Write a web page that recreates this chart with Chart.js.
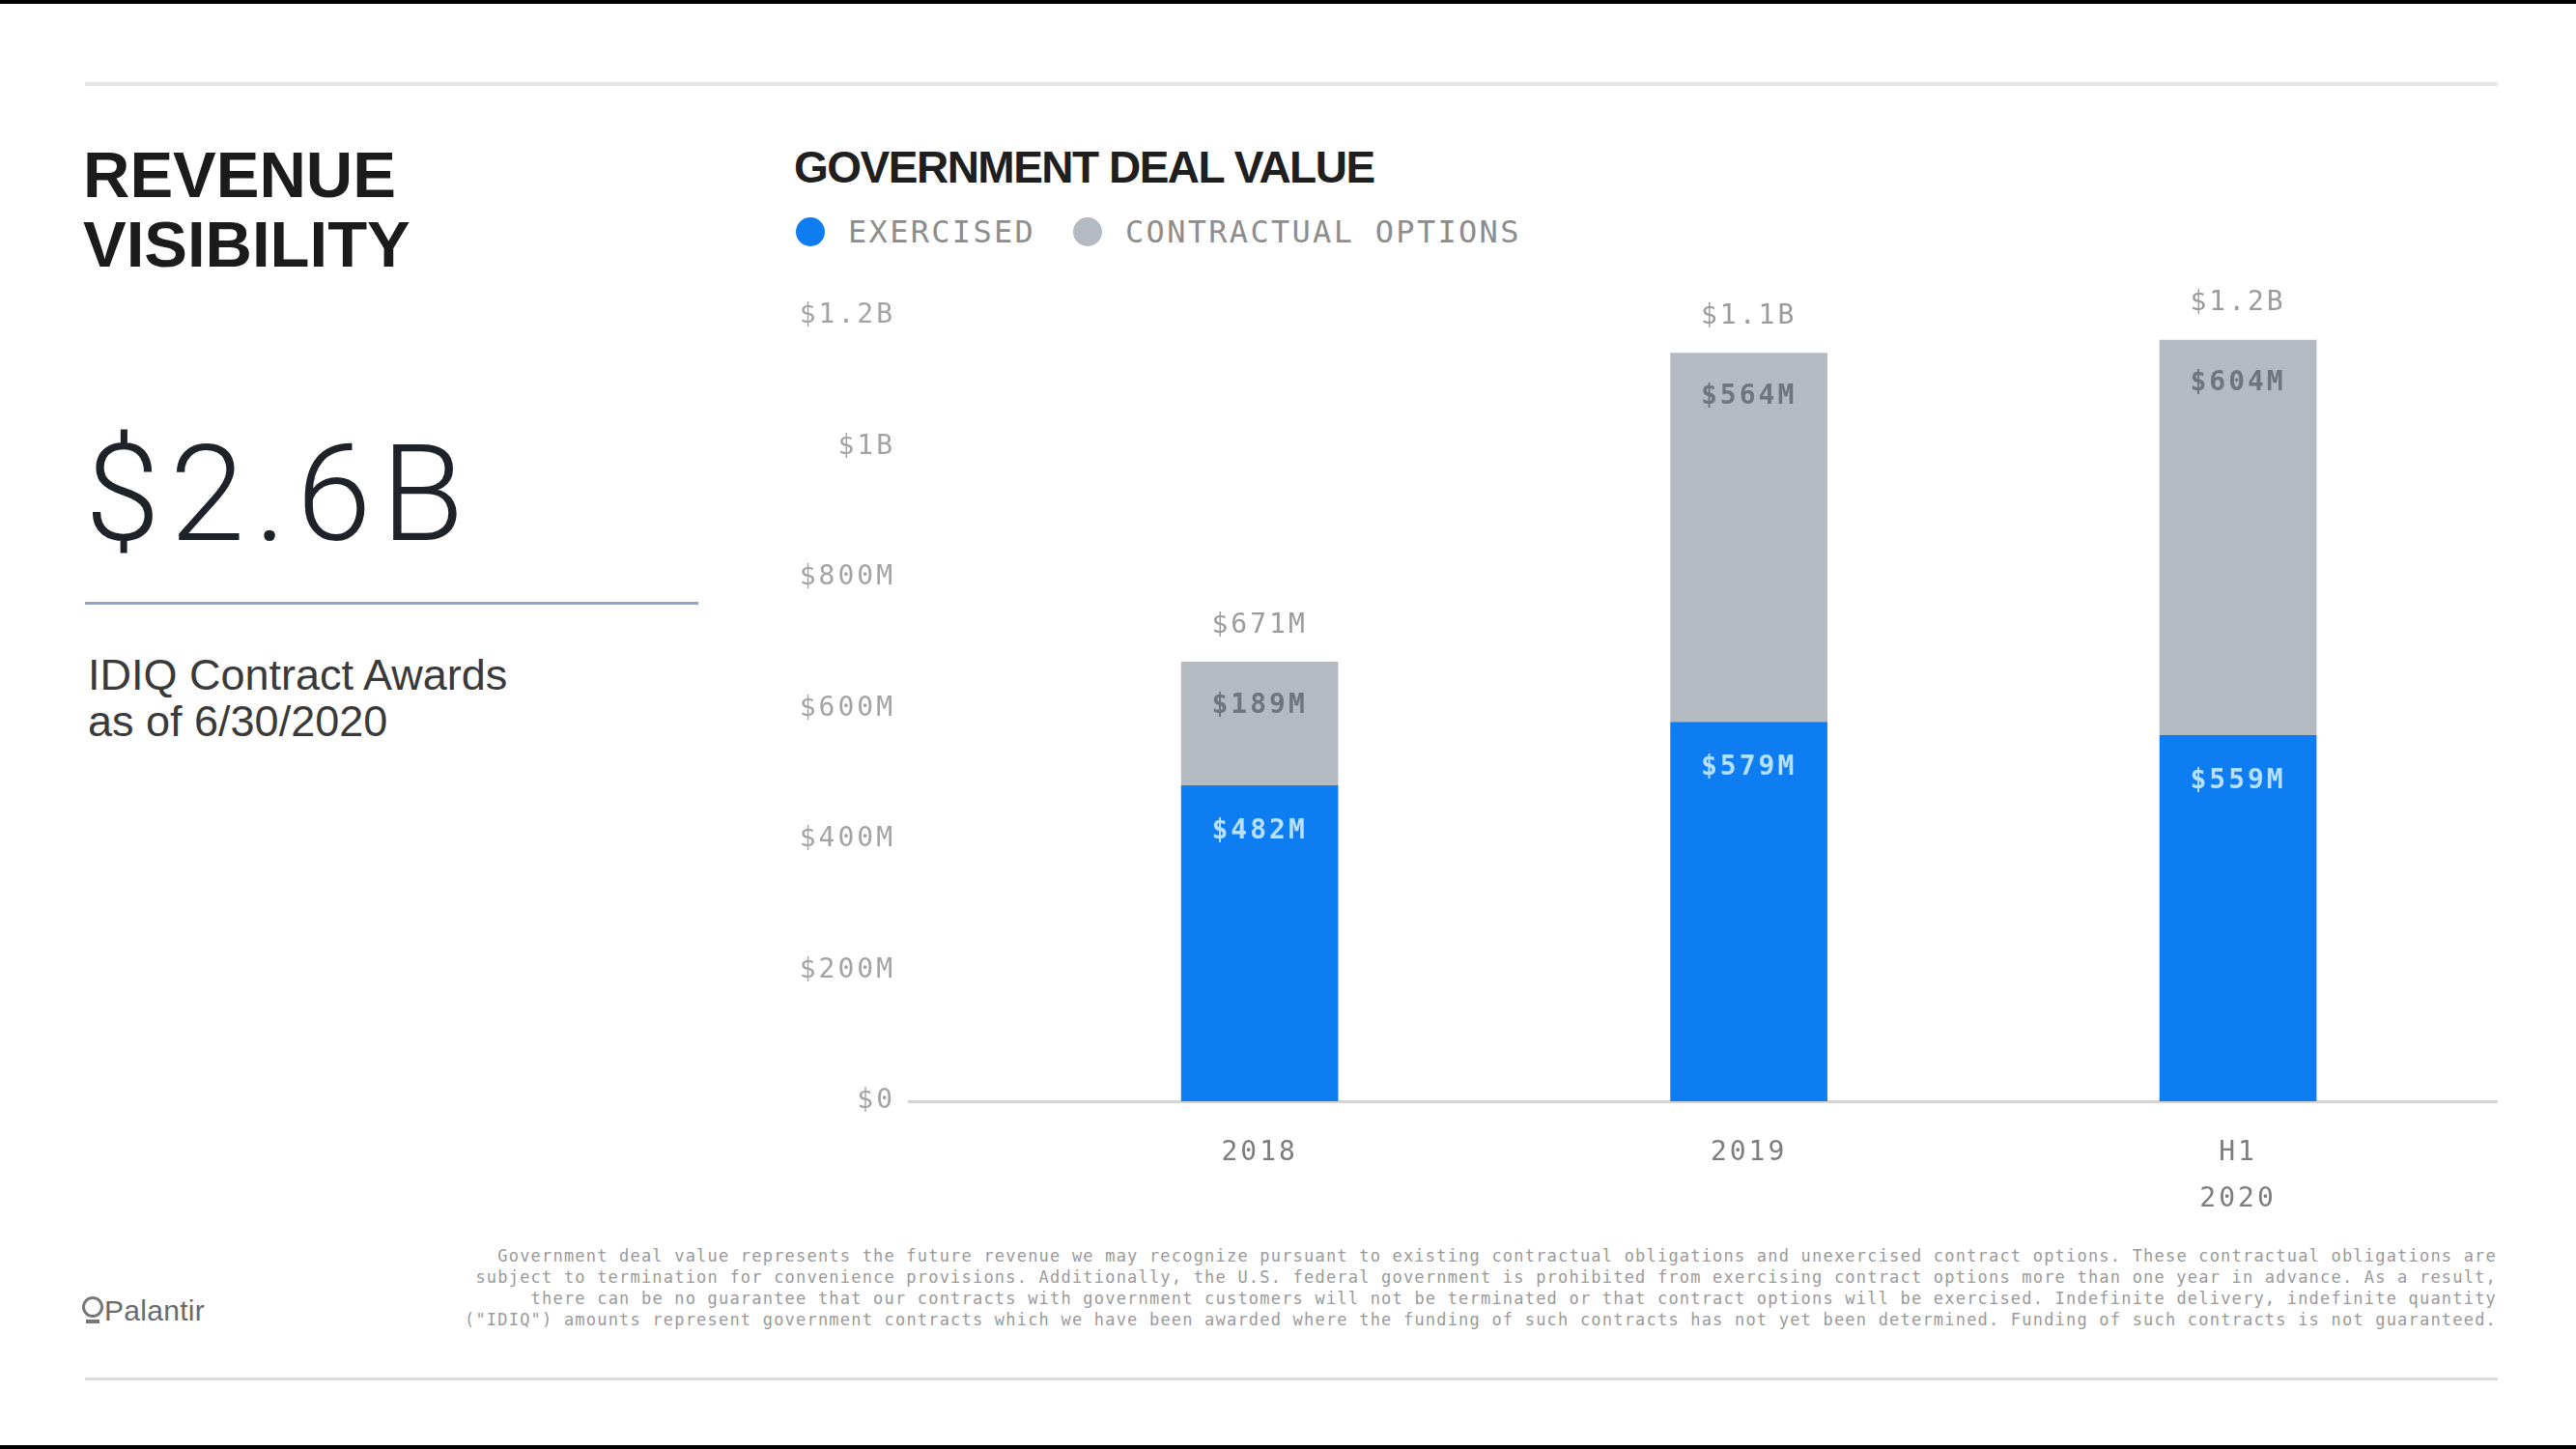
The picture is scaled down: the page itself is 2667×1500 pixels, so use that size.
<!DOCTYPE html>
<html lang="en">
<head>
  <meta charset="UTF-8" />
  <title>Revenue Visibility - Government Deal Value</title>
  <script src="https://cdn.jsdelivr.net/npm/chart.js@4"></script>
  <style>
    body { margin: 0; width: 2667px; height: 1500px; background: #fff; position: relative; overflow: hidden;
           font-family: "Liberation Sans", Arial, sans-serif; }
    .abs { position: absolute; }
    .mono { font-family: "DejaVu Sans Mono", monospace; }
    .rule { background: #e6e6e6; }
    .black { background: #000; left: 0; width: 2667px; height: 4px; }
    .dot { width: 30px; height: 30px; border-radius: 50%; }
    .legend-text { font-size: 32px; line-height: 40px; letter-spacing: 2.3px; color: #8d8d8d; }
  </style>
</head>
<body>
  <div class="abs black" style="top:0"></div>
  <div class="abs black" style="top:1496px"></div>
  <div class="abs rule" style="left:88px; top:85px; width:2498px; height:4px;"></div>
  <div class="abs rule" style="left:88px; top:1426px; width:2498px; height:3px; background:#dcdcdc;"></div>

  <!-- left panel -->
  <div class="abs" style="left:86px; top:145px; font-weight:bold; font-size:67px; line-height:72px; color:#1b1b1b;">
    REVENUE<br>VISIBILITY
  </div>
  <div class="abs" style="left:88px; top:441px; font-family:Roboto, sans-serif; font-weight:300; font-size:140px; line-height:140px; letter-spacing:10px; color:#1e2229;">$2.6B</div>
  <div class="abs" style="left:88px; top:623px; width:635px; height:3px; background:#8fa4c9;"></div>
  <div class="abs" style="left:91px; top:675px; font-size:45px; line-height:48px; color:#3a3a3a;">
    IDIQ Contract Awards<br>as of 6/30/2020
  </div>

  <!-- chart header -->
  <div class="abs" style="left:822px; top:148px; font-weight:bold; font-size:46px; line-height:50px; letter-spacing:-1.5px; color:#1f1f1f;">GOVERNMENT DEAL VALUE</div>
  <div class="abs dot" style="left:824px; top:225px; background:#0e7df2;"></div>
  <div class="abs mono legend-text" style="left:878px; top:220px;">EXERCISED</div>
  <div class="abs dot" style="left:1111px; top:225px; background:#b4bac1;"></div>
  <div class="abs mono legend-text" style="left:1165px; top:220px;">CONTRACTUAL OPTIONS</div>

  <div class="abs" style="left:800px; top:280px;">
    <canvas id="dealChart" width="1830" height="1000"></canvas>
  </div>

  <!-- footnote -->
  <div class="abs mono" style="right:82px; top:1289px; text-align:right; white-space:pre; font-size:17px; line-height:22px; letter-spacing:1.2px; color:#9a9a9a;">Government deal value represents the future revenue we may recognize pursuant to existing contractual obligations and unexercised contract options. These contractual obligations are
subject to termination for convenience provisions. Additionally, the U.S. federal government is prohibited from exercising contract options more than one year in advance. As a result,
there can be no guarantee that our contracts with government customers will not be terminated or that contract options will be exercised. Indefinite delivery, indefinite quantity
("IDIQ") amounts represent government contracts which we have been awarded where the funding of such contracts has not yet been determined. Funding of such contracts is not guaranteed.</div>

  <!-- logo -->
  <div class="abs" style="left:85px; top:1342px; width:16px; height:16px; border:3px solid #777; border-radius:50%;"></div>
  <div class="abs" style="left:89px; top:1366px; width:14px; height:4px; background:#777;"></div>
  <div class="abs" style="left:108px; top:1340px; font-size:30px; line-height:34px; letter-spacing:0.3px; color:#6a6a6a;">Palantir</div>

  <script>
    const categories = ['2018', '2019', ['H1', '2020']];
    const exercised = [482, 579, 559];
    const contractualOptions = [189, 564, 604];
    const totalLabels = ['$671M', '$1.1B', '$1.2B'];
    const yTickLabels = ['$0', '$200M', '$400M', '$600M', '$800M', '$1B', '$1.2B'];

    const monoFont = '"DejaVu Sans Mono", monospace';

    // letter spacing for all canvas text (ticks + labels)
    const spacing = {
      id: 'spacing',
      beforeDraw(chart) { chart.ctx.letterSpacing = '3px'; },
      afterDraw(chart) { chart.ctx.letterSpacing = '0px'; }
    };

    const barLabels = {
      id: 'barLabels',
      afterDatasetsDraw(chart) {
        const ctx = chart.ctx;
        const blue = chart.getDatasetMeta(0).data;
        const gray = chart.getDatasetMeta(1).data;
        ctx.save();
        ctx.letterSpacing = '3px';
        ctx.textAlign = 'center';
        ctx.textBaseline = 'middle';
        blue.forEach((bar, i) => {
          ctx.font = 'bold 28px ' + monoFont;
          ctx.fillStyle = '#b5e0ff';
          ctx.fillText('$' + exercised[i] + 'M', bar.x, bar.y + 47);
          ctx.fillStyle = '#6e757d';
          ctx.fillText('$' + contractualOptions[i] + 'M', gray[i].x, gray[i].y + 45);
          ctx.font = '28px ' + monoFont;
          ctx.fillStyle = '#9b9b9b';
          ctx.fillText(totalLabels[i], gray[i].x, gray[i].y - 38);
        });
        ctx.restore();
      }
    };

    new Chart(document.getElementById('dealChart'), {
      type: 'bar',
      data: {
        datasets: [
          {
            label: 'EXERCISED',
            data: exercised.map((v, i) => ({ x: i, y: v })),
            backgroundColor: '#0e7df2',
            barThickness: 162
          },
          {
            label: 'CONTRACTUAL OPTIONS',
            data: contractualOptions.map((v, i) => ({ x: i, y: v })),
            backgroundColor: '#b4bac1',
            barThickness: 162
          }
        ]
      },
      options: {
        responsive: false,
        devicePixelRatio: 1,
        animation: false,
        layout: { padding: { top: 47, right: 45, left: 0, bottom: 0 } },
        plugins: {
          legend: { display: false },
          tooltip: { enabled: false }
        },
        scales: {
          x: {
            type: 'linear',
            stacked: true,
            offset: false,
            min: -0.717,
            max: 2.529,
            afterBuildTicks: s => { s.ticks = categories.map((_, i) => ({ value: i })); },
            afterFit: s => { s.height = 140; },
            grid: { display: false, drawTicks: false },
            border: { display: true, color: '#d4d4d4', width: 3 },
            ticks: {
              autoSkip: false,
              maxRotation: 0,
              minRotation: 0,
              padding: 30,
              color: '#7d7d7d',
              font: { family: monoFont, size: 28, lineHeight: 1.7 },
              callback: (v, i) => categories[i]
            }
          },
          y: {
            stacked: true,
            min: 0,
            max: 1200,
            afterFit: s => { s.width = 141; },
            grid: { display: false, drawTicks: false },
            border: { display: false },
            ticks: {
              stepSize: 200,
              padding: 14,
              color: '#a3a3a3',
              font: { family: monoFont, size: 28 },
              callback: (v, i) => yTickLabels[i]
            }
          }
        }
      },
      plugins: [spacing, barLabels]
    });
  </script>
</body>
</html>
